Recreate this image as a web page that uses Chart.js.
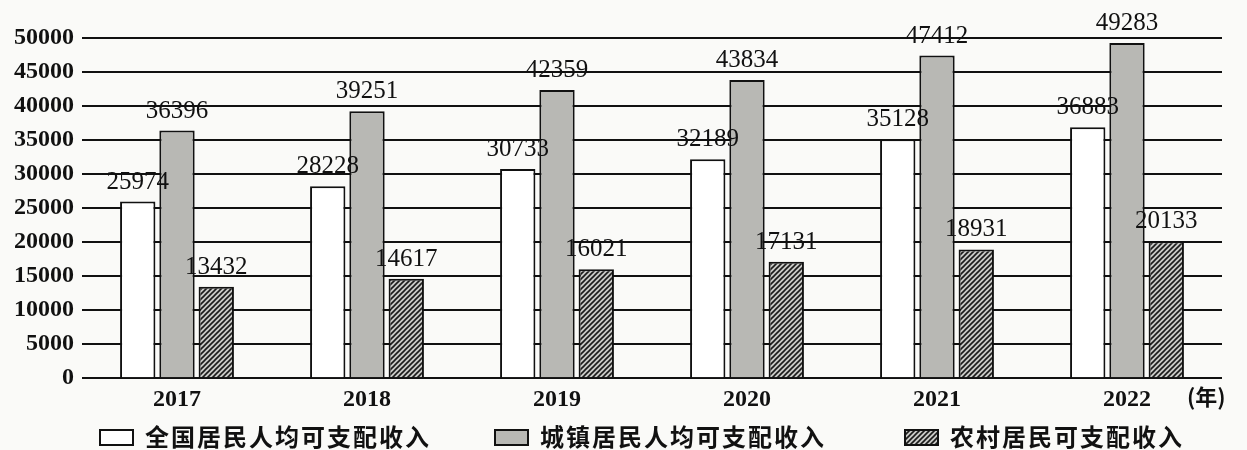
<!DOCTYPE html>
<html lang="zh">

<head>
    <title>居民人均可支配收入</title>
    <script src="https://cdn.jsdelivr.net/npm/chart.js"></script>
    <style>
        body { margin: 0; background: #fafaf8; }
    </style>
</head>

<body>
    <canvas id="myChart" width="1247" height="450"></canvas>

    <script type="text/javascript">

        const years = ['2017', '2018', '2019', '2020', '2021', '2022'];
        const nationalIncome = [25974, 28228, 30733, 32189, 35128, 36883];
        const urbanIncome = [36396, 39251, 42359, 43834, 47412, 49283];
        const ruralIncome = [13432, 14617, 16021, 17131, 18931, 20133];
        const seriesNames = ['全国居民人均可支配收入', '城镇居民人均可支配收入', '农村居民可支配收入'];
        const yMax = 50000;
        const yStep = 5000;

        const canvas = document.getElementById('myChart');
        const ctx = canvas.getContext('2d');

        // diagonal hatch for the rural bars
        function makeHatch() {
            const tile = document.createElement('canvas');
            tile.width = 5;
            tile.height = 5;
            const t = tile.getContext('2d');
            t.fillStyle = '#c9c9c6';
            t.fillRect(0, 0, 5, 5);
            t.strokeStyle = '#1a1a1a';
            t.lineWidth = 1.6;
            t.beginPath();
            t.moveTo(-1, 6); t.lineTo(6, -1);
            t.moveTo(-1, 1); t.lineTo(1, -1);
            t.moveTo(4, 6); t.lineTo(6, 4);
            t.stroke();
            return ctx.createPattern(tile, 'repeat');
        }
        const hatch = makeHatch();

        const valueLabels = {
            id: 'valueLabels',
            afterDatasetsDraw(chart) {
                const c = chart.ctx;
                c.save();
                c.font = '25px "Liberation Serif"';
                c.fillStyle = '#111';
                c.textAlign = 'center';
                c.textBaseline = 'bottom';
                chart.data.datasets.forEach((ds, i) => {
                    chart.getDatasetMeta(i).data.forEach((bar, j) => {
                        c.fillText(ds.data[j], bar.x, bar.y - 7);
                    });
                });
                c.restore();
            }
        };

        const bottomLegend = {
            id: 'bottomLegend',
            afterDraw(chart) {
                const c = chart.ctx;
                const xs = [100, 495, 905];
                const y = 437;
                c.save();
                chart.data.datasets.forEach((ds, i) => {
                    c.fillStyle = ds.backgroundColor;
                    c.fillRect(xs[i], y - 7, 33, 15);
                    c.strokeStyle = '#111';
                    c.lineWidth = 2;
                    c.strokeRect(xs[i], y - 7, 33, 15);
                    c.fillStyle = '#111';
                    c.font = 'bold 24px "Noto Sans CJK SC"';
                    c.letterSpacing = '2px';
                    c.textBaseline = 'middle';
                    c.fillText(ds.label, xs[i] + 45, y);
                });
                // unit after the last year
                const x = chart.scales.x;
                c.letterSpacing = '0px';
                c.font = 'bold 22px "Noto Sans CJK SC"';
                c.fillText('(年)', x.getPixelForTick(years.length - 1) + 60, 397);
                c.restore();
            }
        };

        new Chart(canvas, {
            type: 'bar',
            data: {
                labels: years,
                datasets: [{
                    label: seriesNames[0],
                    data: nationalIncome,
                    backgroundColor: '#ffffff',
                    borderColor: '#111',
                    borderWidth: 2
                }, {
                    label: seriesNames[1],
                    data: urbanIncome,
                    backgroundColor: '#b8b8b4',
                    borderColor: '#111',
                    borderWidth: 2
                }, {
                    label: seriesNames[2],
                    data: ruralIncome,
                    backgroundColor: hatch,
                    borderColor: '#111',
                    borderWidth: 2
                }]
            },
            options: {
                responsive: false,
                animation: false,
                layout: {
                    padding: { left: 6, top: 38, right: 25, bottom: 37 }
                },
                datasets: {
                    bar: {
                        categoryPercentage: 0.62,
                        barPercentage: 0.9
                    }
                },
                scales: {
                    x: {
                        grid: { display: false },
                        border: { display: false },
                        ticks: {
                            padding: -1,
                            color: '#111',
                            font: { family: '"Liberation Serif"', size: 24, weight: 'bold' }
                        }
                    },
                    y: {
                        min: 0,
                        max: yMax,
                        border: { display: false },
                        grid: { color: '#111', lineWidth: 2, drawTicks: false },
                        ticks: {
                            stepSize: yStep,
                            padding: 8,
                            color: '#111',
                            font: { family: '"Liberation Serif"', size: 24, weight: 'bold' },
                            callback: v => String(v)
                        }
                    }
                },
                plugins: {
                    legend: { display: false },
                    tooltip: { enabled: false }
                }
            },
            plugins: [valueLabels, bottomLegend]
        });
    </script>
</body>

</html>
